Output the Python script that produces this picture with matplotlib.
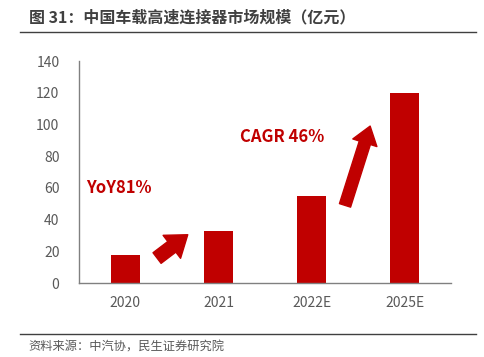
import matplotlib.pyplot as plt
from matplotlib.lines import Line2D

plt.rcParams['font.family'] = ['Noto Sans CJK SC', 'DejaVu Sans']

# data
years = ["2020", "2021", "2022E", "2025E"]
market_size = [18, 33, 55, 120]
y_ticks = [0, 20, 40, 60, 80, 100, 120, 140]

RED = "#C00000"
GRAY = "#595959"


def main():
    fig = plt.figure(figsize=(4.84, 3.57), dpi=100)
    ax = fig.add_axes([0.163, 0.207, 0.769, 0.622])

    x = list(range(len(years)))
    ax.bar(x, market_size, width=0.31, color=RED)

    ax.set_xlim(-0.5, len(years) - 0.5)
    ax.set_ylim(0, 140)
    ax.set_yticks(y_ticks)
    ax.set_xticks(x)
    ax.set_xticklabels(years)
    ax.tick_params(axis="both", length=0, labelsize=10, colors=GRAY)
    ax.tick_params(axis="y", pad=14)
    ax.tick_params(axis="x", pad=9)
    for side in ("top", "right"):
        ax.spines[side].set_visible(False)
    for side in ("left", "bottom"):
        ax.spines[side].set_color("#808080")
        ax.spines[side].set_linewidth(1.0)

    # growth arrows
    arrow_style = "simple,tail_width=0.6,head_width=1.3,head_length=0.9"
    ax.annotate("", xy=(0.67, 30.5), xytext=(0.34, 15.8),
                arrowprops=dict(arrowstyle=arrow_style, color=RED,
                                mutation_scale=16, shrinkA=0, shrinkB=0))
    ax.annotate("", xy=(2.63, 99), xytext=(2.36, 49),
                arrowprops=dict(arrowstyle=arrow_style, color=RED,
                                mutation_scale=14, shrinkA=0, shrinkB=0))

    ax.text(-0.42, 60, "YoY81%", color=RED, fontsize=12, fontweight="bold",
            va="center", ha="left")
    ax.text(1.23, 92, "CAGR 46%", color=RED, fontsize=12, fontweight="bold",
            va="center", ha="left")

    # title and source
    fig.text(0.06, 0.952, "图 31：中国车载高速连接器市场规模（亿元）",
             fontsize=11.5, fontweight="bold", color="#404040", va="center")
    fig.add_artist(Line2D([0.041, 0.984], [0.91, 0.91], color="#404040", lw=1.0))
    fig.add_artist(Line2D([0.041, 0.984], [0.064, 0.064], color="#404040", lw=1.0))
    fig.text(0.058, 0.028, "资料来源：中汽协，民生证券研究院",
             fontsize=8.8, color=GRAY, va="center")

    fig.savefig("out.png", dpi=100)


if __name__ == "__main__":
    main()
